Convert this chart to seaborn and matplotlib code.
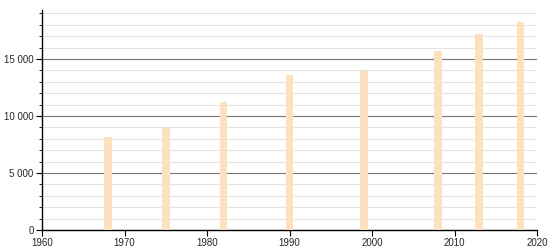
import matplotlib
matplotlib.use("Agg")
import matplotlib.pyplot as plt
import matplotlib.ticker as mticker
import seaborn as sns
import pandas as pd

years = [1968, 1975, 1982, 1990, 1999, 2008, 2013, 2018]
population = [8150, 8950, 11200, 13600, 13950, 15700, 17200, 18250]

sns.set_style("white")
plt.rcParams['font.family'] = ['Liberation Sans', 'DejaVu Sans']

df = pd.DataFrame({"year": years, "pop": population})

fig = plt.figure(figsize=(5.5, 2.5), dpi=100)
ax = fig.add_axes([42/550, 20/250, (537-42)/550, 220/250])

sns.barplot(data=df, x="year", y="pop", native_scale=True, width=0.19,
            color="#fde0bd", saturation=1, edgecolor="none", ax=ax, zorder=3)

ax.set_xlim(1960, 2020)
ax.set_ylim(0, 19300)
ax.xaxis.set_major_locator(mticker.MultipleLocator(10))
ax.yaxis.set_major_locator(mticker.MultipleLocator(5000))
ax.yaxis.set_minor_locator(mticker.MultipleLocator(1000))
ax.yaxis.set_major_formatter(mticker.FuncFormatter(lambda v, p: f"{int(v):,}".replace(",", " ")))

ax.grid(True, axis="y", which="major", color="#777777", linewidth=0.8, zorder=1)
ax.grid(True, axis="y", which="minor", color="#e3e3e3", linewidth=0.8, zorder=1)
ax.set_axisbelow(True)

for s in ["top", "right"]:
    ax.spines[s].set_visible(False)
for s in ["left", "bottom"]:
    ax.spines[s].set_color("black")
    ax.spines[s].set_linewidth(1)

ax.tick_params(axis="both", which="major", direction="out", length=4, width=0.8,
               color="black", labelsize=7, left=True, bottom=True, pad=2)
ax.tick_params(axis="y", which="minor", direction="out", length=2, width=0.6,
               color="black", left=True)
ax.set_xlabel("")
ax.set_ylabel("")

fig.savefig("out.png", dpi=100)
